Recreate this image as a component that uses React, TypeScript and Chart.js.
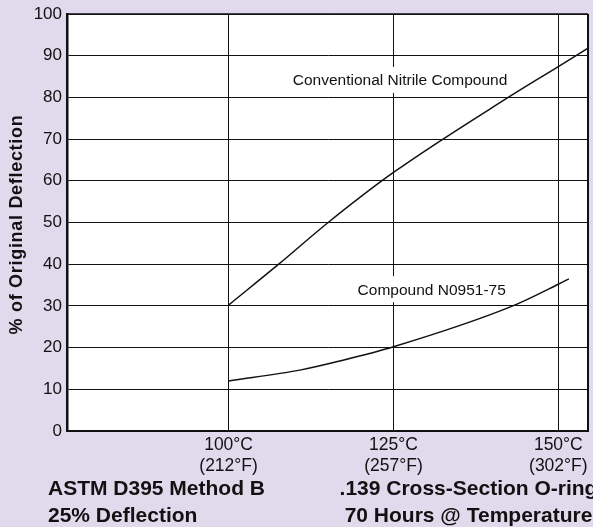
import React, { useEffect, useRef } from "react";
import { Chart, registerables } from "chart.js";

Chart.register(...registerables);

// ---- data ----
const tempTicksC = [100, 125, 150];
const tempTicksF = [212, 257, 302];

const nitrileTemps = [100, 107.6, 115.1, 125, 142.4, 150, 154.5];
const nitrileValues = [30.2, 40, 50, 62, 80, 87.4, 91.8];

const n0951Temps = [100, 110.8, 116.9, 125, 143.1, 150, 151.6];
const n0951Values = [12, 14.6, 16.8, 20.2, 30, 35.2, 36.5];

const seriesNames = ["Conventional Nitrile Compound", "Compound N0951-75"];
// label anchor points in data units (°C, %)
const labelTemps = [126.0, 130.8];
const labelValues = [84.2, 34.0];

const yTitle = "% of Original Deflection";
const notesLeft = ["ASTM D395 Method B", "25% Deflection"];
const notesRight = [".139 Cross-Section O-ring", "70 Hours @ Temperature"];

// ---- style ----
const W = 593;
const H = 527;
const FONT = "'Liberation Sans', Arial, Helvetica, sans-serif";
const BG = "#E0DAEC";
const INK = "#111111";

const decorPlugin = {
  id: "decor",
  beforeDraw(chart: any) {
    const { ctx, chartArea } = chart;
    ctx.save();
    ctx.fillStyle = "#ffffff";
    ctx.fillRect(
      chartArea.left,
      chartArea.top,
      chartArea.right - chartArea.left,
      chartArea.bottom - chartArea.top
    );
    ctx.restore();
  },
  beforeDatasetsDraw(chart: any) {
    const { ctx, scales } = chart;
    const xs = scales.x;
    const ys = scales.y;
    ctx.save();
    ctx.font = `15.5px ${FONT}`;
    ctx.textAlign = "center";
    ctx.textBaseline = "alphabetic";
    seriesNames.forEach((name, i) => {
      const px = xs.getPixelForValue(labelTemps[i]);
      const py = ys.getPixelForValue(labelValues[i]);
      const w = ctx.measureText(name).width;
      ctx.fillStyle = "#ffffff";
      ctx.fillRect(px - w / 2 - 3, py - 13, w + 6, 26);
      ctx.fillStyle = INK;
      ctx.fillText(name, px, py + 5.5);
    });
    ctx.restore();
  },
  afterDraw(chart: any) {
    const { ctx, chartArea } = chart;
    ctx.save();
    // frame: top and right edges
    ctx.strokeStyle = INK;
    ctx.lineWidth = 1.5;
    ctx.beginPath();
    ctx.moveTo(chartArea.left, chartArea.top);
    ctx.lineTo(chartArea.right, chartArea.top);
    ctx.stroke();
    ctx.lineWidth = 2;
    ctx.beginPath();
    ctx.moveTo(chartArea.right, chartArea.top);
    ctx.lineTo(chartArea.right, chartArea.bottom);
    ctx.stroke();

    // y title
    ctx.fillStyle = INK;
    ctx.font = `bold 18px ${FONT}`;
    try {
      (ctx as any).letterSpacing = "0.7px";
    } catch (e) {}
    ctx.translate(17.5, (chartArea.top + chartArea.bottom) / 2 + 2);
    ctx.rotate(-Math.PI / 2);
    ctx.textAlign = "center";
    ctx.textBaseline = "middle";
    ctx.fillText(yTitle, 0, 0);
    ctx.restore();

    // notes under the chart
    ctx.save();
    ctx.fillStyle = INK;
    ctx.font = `bold 21px ${FONT}`;
    ctx.textBaseline = "alphabetic";
    ctx.textAlign = "left";
    ctx.fillText(notesLeft[0], 48, 495);
    ctx.fillText(notesLeft[1], 48, 521.5);
    ctx.textAlign = "center";
    ctx.fillText(notesRight[0], 468.5, 495);
    ctx.fillText(notesRight[1], 468.5, 521.5);
    ctx.restore();
  },
};

export default function App() {
  const canvasRef = useRef<HTMLCanvasElement | null>(null);

  useEffect(() => {
    const canvas = canvasRef.current;
    if (!canvas) return;
    const chart = new Chart(canvas, {
      type: "scatter",
      data: {
        datasets: [
          {
            label: seriesNames[0],
            data: nitrileTemps.map((t, i) => ({ x: t, y: nitrileValues[i] })),
            showLine: true,
            borderColor: INK,
            borderWidth: 1.5,
            pointRadius: 0,
            cubicInterpolationMode: "monotone",
          },
          {
            label: seriesNames[1],
            data: n0951Temps.map((t, i) => ({ x: t, y: n0951Values[i] })),
            showLine: true,
            borderColor: INK,
            borderWidth: 1.5,
            pointRadius: 0,
            cubicInterpolationMode: "monotone",
          },
        ],
      },
      options: {
        responsive: false,
        animation: false,
        devicePixelRatio: 1,
        layout: { padding: { left: 0, top: 14, right: 5, bottom: 0 } },
        plugins: {
          legend: { display: false },
          tooltip: { enabled: false },
          title: { display: false },
        },
        scales: {
          x: {
            type: "linear",
            min: 75.5,
            max: 154.5,
            afterBuildTicks: (scale: any) => {
              scale.ticks = tempTicksC.map((v) => ({ value: v }));
            },
            afterFit: (scale: any) => {
              scale.height = H - 431;
              scale.paddingLeft = 0;
              scale.paddingRight = 0;
            },
            grid: {
              color: INK,
              lineWidth: 1,
              drawTicks: false,
            },
            border: { display: true, color: INK, width: 2 },
            ticks: {
              color: INK,
              padding: 4,
              maxRotation: 0,
              autoSkip: false,
              font: { family: FONT, size: 17.5, lineHeight: 1.17 },
              callback: (v: any) => {
                const i = tempTicksC.indexOf(Number(v));
                return i >= 0 ? [`${tempTicksC[i]}°C`, `(${tempTicksF[i]}°F)`] : "";
              },
            },
          },
          y: {
            type: "linear",
            min: 0,
            max: 100,
            afterFit: (scale: any) => {
              scale.width = 67;
              scale.paddingTop = 0;
              scale.paddingBottom = 0;
            },
            grid: {
              color: INK,
              lineWidth: 1,
              drawTicks: false,
            },
            border: { display: true, color: INK, width: 2.5 },
            ticks: {
              stepSize: 10,
              color: INK,
              padding: 5,
              font: { family: FONT, size: 17 },
            },
          },
        },
      },
      plugins: [decorPlugin],
    });
    return () => chart.destroy();
  }, []);

  return (
    <div
      style={{
        position: "fixed",
        left: 0,
        top: 0,
        width: W,
        height: H,
        background: BG,
      }}
    >
      <canvas ref={canvasRef} width={W} height={H} style={{ display: "block" }} />
    </div>
  );
}
